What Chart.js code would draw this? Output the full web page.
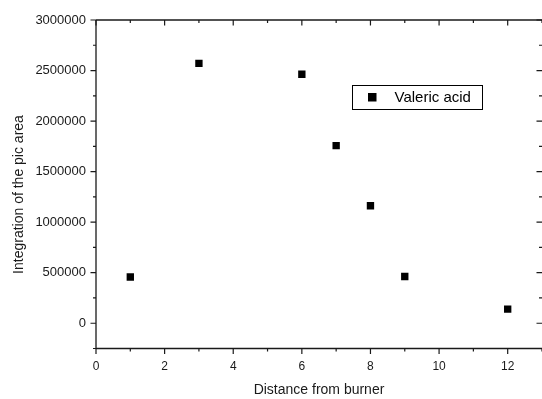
<!DOCTYPE html>
<html>
<head>
<meta charset="utf-8">
<script src="https://cdn.jsdelivr.net/npm/chart.js@4"></script>
<style>
  html, body { margin: 0; padding: 0; background: #fff; }
  #wrap { width: 542px; height: 399px; }
</style>
</head>
<body>
<div id="wrap"><canvas id="valericChart" width="542" height="399"></canvas></div>
<script>
// values
const distances = [1, 3, 6, 7, 8, 9, 12];
const peakAreas = [457000, 2571000, 2463000, 1757000, 1162000, 462000, 139000];
const seriesLabel = 'Valeric acid';
const xTicks = [0, 2, 4, 6, 8, 10, 12];
const yTicks = [0, 500000, 1000000, 1500000, 2000000, 2500000, 3000000];
const xTitle = 'Distance from burner';
const yTitle = 'Integration of the pic area';

const FONT = "'Liberation Sans', Arial, sans-serif";
const INK = '#1a1a1a';

// frame, in/out ticks, y title and the boxed legend (Origin style)
const originFrame = {
    id: 'originFrame',
    afterDraw(chart) {
        const { ctx, chartArea: a, scales: { x, y } } = chart;
        ctx.save();
        ctx.strokeStyle = INK;
        ctx.lineWidth = 1.3;

        // right side of the frame sits just past the canvas edge, as in the source
        ctx.beginPath();
        ctx.moveTo(a.left, a.top);
        ctx.lineTo(a.right, a.top);
        ctx.moveTo(a.left, a.bottom);
        ctx.lineTo(a.right, a.bottom);
        ctx.moveTo(a.left, a.top);
        ctx.lineTo(a.left, a.bottom + 0.6);
        ctx.stroke();

        ctx.lineWidth = 1.2;
        ctx.beginPath();
        for (let v = x.min; v <= x.max; v++) {
            const px = x.getPixelForValue(v);
            const len = v % 2 === 0 ? 5.5 : 3;
            ctx.moveTo(px, a.bottom);
            ctx.lineTo(px, a.bottom + len);
            ctx.moveTo(px, a.top);
            ctx.lineTo(px, a.top + len);
        }
        for (let v = y.min; v <= y.max; v += 250000) {
            const py = y.getPixelForValue(v);
            const len = v % 500000 === 0 ? 5.5 : 3;
            ctx.moveTo(a.left, py);
            ctx.lineTo(a.left - len, py);
            ctx.moveTo(a.right, py);
            ctx.lineTo(a.right - len, py);
        }
        ctx.stroke();

        // y axis title
        ctx.fillStyle = INK;
        ctx.font = '14px ' + FONT;
        ctx.textAlign = 'center';
        ctx.textBaseline = 'alphabetic';
        ctx.translate(22.5, 194.5);
        ctx.rotate(-Math.PI / 2);
        ctx.fillText(yTitle, 0, 0);
        ctx.setTransform(1, 0, 0, 1, 0, 0);

        // legend box
        ctx.lineWidth = 1;
        ctx.strokeStyle = '#000';
        ctx.strokeRect(352.5, 85.5, 130, 24);
        ctx.fillStyle = '#000';
        ctx.fillRect(368, 93, 8.5, 8.5);
        ctx.font = '15px ' + FONT;
        ctx.textAlign = 'left';
        ctx.textBaseline = 'middle';
        ctx.fillText(chart.data.datasets[0].label, 394.5, 97.5);
        ctx.restore();
    }
};

const ctx = document.getElementById('valericChart').getContext('2d');

new Chart(ctx, {
    type: 'scatter',
    data: {
        datasets: [{
            label: seriesLabel,
            data: distances.map((d, i) => ({ x: d, y: peakAreas[i] })),
            pointStyle: 'rect',
            pointRadius: 5.2,
            pointHoverRadius: 5.2,
            backgroundColor: '#000',
            borderColor: '#000',
            borderWidth: 0
        }]
    },
    options: {
        responsive: false,
        animation: false,
        layout: {
            autoPadding: false,
            padding: { top: 20, left: 0, right: 0, bottom: 0 }
        },
        scales: {
            x: {
                type: 'linear',
                min: 0,
                max: 13,
                grid: { display: false, drawTicks: false },
                border: { display: false },
                afterBuildTicks(scale) { scale.ticks = xTicks.map(v => ({ value: v })); },
                ticks: {
                    padding: 11,
                    color: INK,
                    font: { family: FONT, size: 12 },
                    callback: v => String(v)
                },
                title: {
                    display: true,
                    text: xTitle,
                    color: INK,
                    font: { family: FONT, size: 14 },
                    padding: { top: 4, bottom: 0 }
                },
                afterFit(scale) {
                    scale.height = 50.5;
                    scale.paddingLeft = 0;
                    scale.paddingRight = 0;
                }
            },
            y: {
                type: 'linear',
                min: -250000,
                max: 3000000,
                grid: { display: false, drawTicks: false },
                border: { display: false },
                afterBuildTicks(scale) { scale.ticks = yTicks.map(v => ({ value: v })); },
                ticks: {
                    padding: 10,
                    color: INK,
                    font: { family: FONT, size: 13 },
                    callback: v => String(v)
                },
                afterFit(scale) {
                    scale.width = 96;
                    scale.paddingTop = 0;
                    scale.paddingBottom = 0;
                }
            }
        },
        plugins: {
            legend: { display: false },
            tooltip: { enabled: false }
        }
    },
    plugins: [originFrame]
});
</script>
</body>
</html>
